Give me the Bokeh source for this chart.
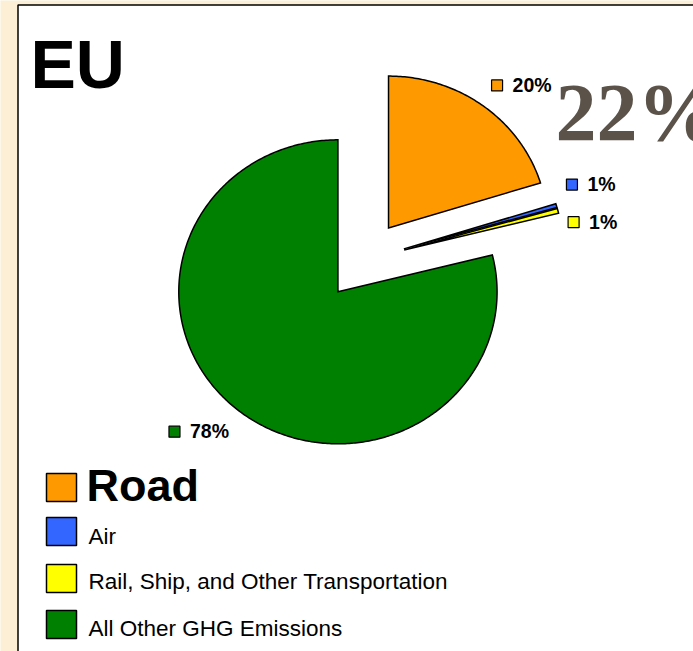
import numpy as np
from bokeh.plotting import figure
from bokeh.models import ColumnDataSource, Range1d
from bokeh.core.properties import value
from bokeh.embed import file_html
from bokeh.resources import INLINE

# ---------------- data ----------------
categories = ["Road", "Air", "Rail, Ship, and Other Transportation", "All Other GHG Emissions"]
shares = [20.2, 0.4, 0.5, 78.9]
label_texts = ["20%", "1%", "1%", "78%"]
colors = ["#ff9900", "#3366ff", "#ffff00", "#008000"]
title_text = "EU"
transport_total = "22%"

# ---------------- layout / style ----------------
W, H = 693, 651
BG = "#fcefd6"
BASE_K = 0.36   # svg alphabetic-baseline correction (fraction of font size)


def fy(ref_y):
    # convert a top-down pixel position into the (bottom-up) data space
    return H - ref_y


def by(ref_baseline, size):
    return fy(ref_baseline) + BASE_K * size


p = figure(width=W, height=H, x_range=Range1d(0, W), y_range=Range1d(0, H),
           output_backend="svg", toolbar_location=None,
           x_axis_location=None, y_axis_location=None, min_border=0)
p.grid.visible = False
p.outline_line_color = None
p.background_fill_color = BG
p.border_fill_color = BG

# white panel with black left/top border
p.quad(left=17.5, right=760, bottom=-50, top=fy(4.5), fill_color="white",
       line_color="black", line_width=1.5)

# ---------------- pie (all slices exploded, slightly stretched horizontally) ----------------
frac = np.array(shares) / np.sum(shares)
ends = np.pi / 2 - 2 * np.pi * np.cumsum(frac)
starts = np.concatenate([[np.pi / 2], ends[:-1]])
mids = (starts + ends) / 2
cx, cy = 363.2, fy(259.8)
EXPLODE, R, SX = 40, 152, 1.047
xs, ys = [], []
for a0, a1, am in zip(starts, ends, mids):
    vx = EXPLODE * np.cos(am)
    vy = EXPLODE * np.sin(am)
    n = max(3, int(abs(a0 - a1) * 80))
    t = np.linspace(a0, a1, n)
    px = np.concatenate([[vx], vx + R * np.cos(t)])
    py = np.concatenate([[vy], vy + R * np.sin(t)])
    xs.append(list(cx + SX * px))
    ys.append(list(cy + py))
src = ColumnDataSource(dict(xs=xs, ys=ys, color=colors, cat=categories))
p.patches(xs="xs", ys="ys", fill_color="color", line_color="black", line_width=1.5,
          line_join="miter", source=src)

# ---------------- data labels ----------------
LABEL_D = 206
BOX_W, BOX_HH = 62, 9
nudge_x = [0, -4, -4, 0]
nudge_y = [0, 8, -24, 0]
LAB_SIZE = 19.5
ax = cx + SX * LABEL_D * np.cos(mids) + np.array(nudge_x)
ay = cy + LABEL_D * np.sin(mids) + np.array(nudge_y)
mk_left = np.where(np.cos(mids) >= 0, ax, ax - BOX_W)
ctr_y = np.where(np.sin(mids) >= 0, ay + BOX_HH, ay - BOX_HH)
p.rect(x=mk_left + 5.5, y=ctr_y, width=11, height=11, fill_color=colors,
       line_color="black", line_width=1.2)
lab_src = ColumnDataSource(dict(x=mk_left + 21, y=ctr_y - 6.5 + BASE_K * LAB_SIZE, t=label_texts))
p.text(x="x", y="y", text="t", source=lab_src, text_font=value("Liberation Sans"),
       text_font_style="bold", text_font_size=f"{LAB_SIZE}px", text_color="black",
       text_align="left", text_baseline="alphabetic")

# ---------------- titles ----------------
p.text(x=[30], y=[by(88, 68)], text=[title_text], text_font=value("Liberation Sans"),
       text_font_style="bold", text_font_size="68px", text_color="black",
       text_align="left", text_baseline="alphabetic")
p.text(x=[555], y=[by(142, 82)], text=[transport_total], text_font=value("Liberation Serif"),
       text_font_style="bold", text_font_size="82px", text_color="#5b5249",
       text_align="left", text_baseline="alphabetic")

# ---------------- legend ----------------
leg_row_y = [487, 531, 578, 624]
leg_base_y = [501, 544, 589, 636]
leg_text_x = [86, 88, 88, 88]
leg_sizes = [45, 22.5, 22.5, 22.5]
leg_styles = ["bold", "normal", "normal", "normal"]
p.rect(x=61, y=[fy(v) for v in leg_row_y], width=30, height=28, fill_color=colors,
       line_color="black", line_width=1.5)
for i, cat in enumerate(categories):
    p.text(x=[leg_text_x[i]], y=[by(leg_base_y[i], leg_sizes[i])], text=[cat],
           text_font=value("Liberation Sans"), text_font_style=leg_styles[i],
           text_font_size=f"{leg_sizes[i]}px", text_color="black",
           text_align="left", text_baseline="alphabetic")

open("out.html", "w").write(file_html(p, INLINE))
